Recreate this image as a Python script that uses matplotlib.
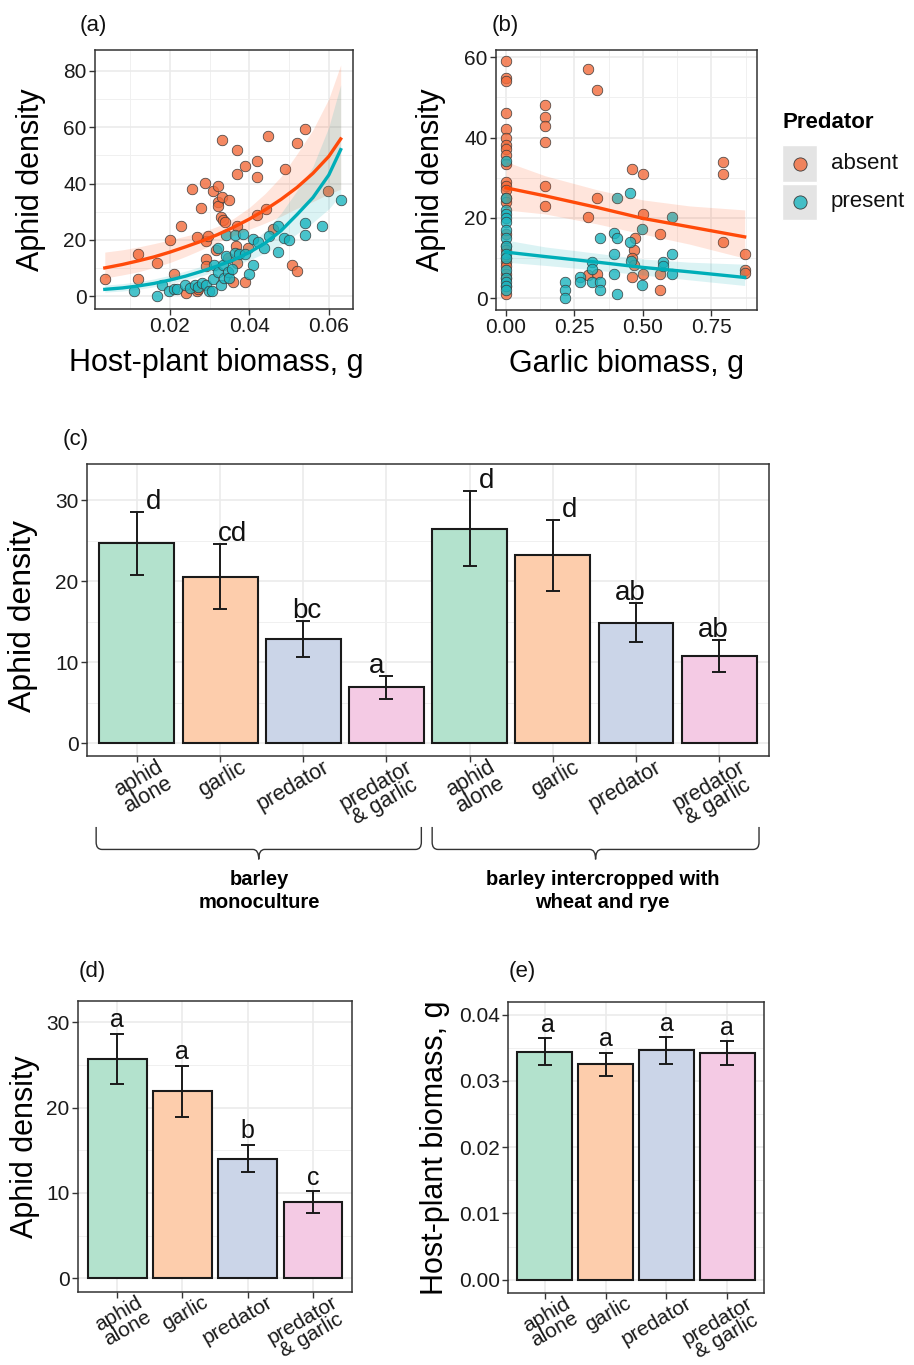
import matplotlib
matplotlib.use("Agg")
import matplotlib.pyplot as plt
import numpy as np
from matplotlib import transforms
from matplotlib.lines import Line2D
from matplotlib.patches import PathPatch, Rectangle
from matplotlib.path import Path

plt.rcParams["font.family"] = ["Liberation Sans", "DejaVu Sans"]

# ---------------- data ----------------
# (a) aphid density vs host-plant biomass
a_abs_x = [0.0036, 0.0119, 0.0119, 0.0167, 0.0199, 0.0209, 0.0228, 0.0240, 0.0256, 0.0278,
           0.0268, 0.0268, 0.0270, 0.0288, 0.0290, 0.0290, 0.0290, 0.0296, 0.0308, 0.0315,
           0.0320, 0.0320, 0.0320, 0.0330, 0.0330, 0.0328, 0.0333, 0.0338, 0.0345, 0.0350,
           0.0369, 0.0369, 0.0369, 0.0367, 0.0370, 0.0360, 0.0389, 0.0389, 0.0397, 0.0419,
           0.0419, 0.0419, 0.0441, 0.0447, 0.0460, 0.0489, 0.0508, 0.0519, 0.0519, 0.0540,
           0.0598]
a_abs_y = [6.3, 15.2, 6.3, 11.9, 19.9, 8.1, 24.9, 1.1, 38.2, 31.2,
           21.1, 1.8, 2.8, 40.2, 19.6, 13.3, 10.7, 21.4, 37.4, 16.5,
           39.0, 33.4, 32.2, 55.3, 35.3, 28.2, 27.0, 26.5, 13.5, 34.1,
           52.0, 43.2, 24.9, 17.8, 11.9, 5.1, 46.1, 5.1, 17.2, 48.1,
           42.2, 28.7, 31.0, 57.0, 24.0, 45.2, 11.1, 9.0, 54.4, 59.4,
           37.4]
a_pre_x = [0.0109, 0.0167, 0.0179, 0.0198, 0.0209, 0.0219, 0.0238, 0.0250, 0.0263, 0.0271,
           0.0280, 0.0290, 0.0298, 0.0305, 0.0308, 0.0311, 0.0320, 0.0320, 0.0328, 0.0333,
           0.0335, 0.0340, 0.0340, 0.0345, 0.0350, 0.0357, 0.0364, 0.0365, 0.0374, 0.0385,
           0.0390, 0.0409, 0.0409, 0.0399, 0.0422, 0.0438, 0.0450, 0.0471, 0.0471, 0.0488,
           0.0499, 0.0540, 0.0540, 0.0582, 0.0630]
a_pre_y = [1.9, 0.1, 3.9, 1.9, 2.5, 2.5, 3.9, 3.0, 4.2, 3.5,
           4.8, 4.0, 1.9, 1.9, 6.0, 11.0, 17.2, 8.5, 4.2, 11.1,
           6.5, 14.3, 21.6, 8.7, 6.7, 9.6, 21.6, 15.5, 15.2, 22.0,
           15.0, 20.4, 11.0, 8.1, 19.3, 17.2, 21.4, 25.1, 15.6, 20.8,
           20.0, 26.1, 21.7, 25.1, 34.1]

# fitted curves and confidence bands
a_fit_x = [0.0036, 0.008, 0.012, 0.016, 0.020, 0.024, 0.028, 0.032,
           0.036, 0.040, 0.044, 0.048, 0.052, 0.056, 0.060, 0.063]
a_fit_abs = [10.1, 11.3, 12.6, 14.0, 15.7, 17.6, 19.6, 21.9,
             24.5, 27.4, 30.7, 34.4, 38.6, 43.6, 49.6, 55.8]
a_abs_lo = [6.5, 7.6, 8.7, 10.3, 12.0, 14.2, 16.6, 19.2,
            21.5, 23.8, 26.0, 28.4, 31.2, 33.6, 36.3, 38.0]
a_abs_hi = [15.7, 16.5, 17.5, 18.7, 20.0, 21.4, 22.8, 24.8,
            27.6, 31.5, 36.5, 42.5, 50.5, 59.0, 70.0, 82.0]
a_fit_pre = [2.5, 3.0, 3.7, 4.6, 5.8, 7.2, 8.9, 10.8,
             12.9, 15.6, 18.9, 23.3, 29.0, 35.0, 43.0, 52.0]
a_pre_lo = [1.5, 1.9, 2.5, 3.4, 4.5, 5.8, 7.3, 9.0,
            10.7, 12.9, 15.4, 18.3, 22.2, 26.2, 31.0, 36.0]
a_pre_hi = [4.0, 4.5, 5.2, 6.2, 7.5, 9.0, 10.7, 12.8,
            15.2, 18.5, 23.2, 29.5, 37.5, 46.0, 60.0, 75.0]

# (b) aphid density vs garlic biomass
b_abs_x = [0.0] * 25 + [0.143, 0.143, 0.143, 0.143, 0.143, 0.143, 0.301, 0.334, 0.334, 0.301,
                        0.301, 0.334, 0.460, 0.500, 0.500, 0.472, 0.466, 0.460, 0.466, 0.460,
                        0.500, 0.561, 0.561, 0.561, 0.792, 0.792, 0.792, 0.872, 0.872, 0.872]
b_abs_y = [59.1, 54.9, 54.2, 46.0, 42.1, 39.8, 38.2, 37.2, 35.7, 33.5,
           29.0, 28.0, 27.0, 25.0, 24.0, 16.0, 13.0, 12.0, 10.0, 9.0,
           8.0, 6.0, 5.0, 3.0, 1.0,
           48.1, 45.1, 43.0, 39.0, 28.0, 22.9, 57.0, 51.9, 24.9, 20.2,
           5.8, 6.0, 32.1, 31.0, 20.9, 15.1, 12.0, 10.0, 8.3, 5.4,
           6.0, 16.1, 6.0, 2.1, 34.0, 31.0, 14.1, 11.0, 7.0, 6.2]
b_pre_x = [0.0] * 16 + [0.217, 0.217, 0.217, 0.270, 0.270, 0.313, 0.313, 0.313, 0.344, 0.344,
                        0.344, 0.393, 0.407, 0.393, 0.393, 0.405, 0.407, 0.454, 0.454, 0.457,
                        0.496, 0.496, 0.572, 0.572, 0.606, 0.606, 0.606]
b_pre_y = [34.1, 25.0, 22.0, 21.0, 20.0, 19.0, 17.0, 15.0, 13.0, 11.0,
           10.0, 7.0, 5.0, 4.0, 3.0, 2.0,
           4.1, 2.1, 0.1, 5.2, 4.0, 9.0, 7.3, 4.0, 15.1, 4.0,
           2.1, 16.2, 15.1, 11.0, 6.0, 25.0, 1.1, 26.1, 14.1, 9.2,
           17.2, 3.3, 9.1, 8.0, 20.2, 11.0, 6.0]

b_fit_x = [0.0, 0.143, 0.334, 0.5, 0.67, 0.872]
b_fit_abs = [27.5, 25.5, 22.6, 19.9, 17.8, 15.3]
b_abs_lo = [22.0, 21.0, 18.5, 16.0, 13.5, 10.0]
b_abs_hi = [34.0, 30.5, 27.0, 24.5, 23.0, 22.0]
b_fit_pre = [11.5, 10.4, 9.0, 7.7, 6.6, 5.2]
b_pre_lo = [9.0, 8.2, 7.0, 5.8, 4.6, 3.2]
b_pre_hi = [14.5, 12.8, 11.2, 9.8, 9.0, 8.5]

# (c) aphid density by treatment and cropping system
treatments = ["aphid\nalone", "garlic", "predator", "predator\n& garlic"]
c_mean = [24.7, 20.6, 12.9, 6.9, 26.5, 23.2, 14.9, 10.8]
c_se = [3.9, 4.05, 2.2, 1.45, 4.65, 4.35, 2.4, 1.95]
c_letters = ["d", "cd", "bc", "a", "d", "d", "ab", "ab"]
groups = ["barley\nmonoculture", "barley intercropped with\nwheat and rye"]

# (d) aphid density pooled
d_mean = [25.7, 21.9, 14.0, 8.9]
d_se = [2.95, 3.0, 1.6, 1.27]
d_letters = ["a", "a", "b", "c"]

# (e) host-plant biomass
e_mean = [0.0344, 0.0325, 0.0346, 0.0342]
e_se = [0.00205, 0.00175, 0.0020, 0.0018]
e_letters = ["a", "a", "a", "a"]

# ---------------- style ----------------
ORANGE = "#FF4A0A"
TEAL = "#00AEB8"
PT_ORANGE = (0.95, 0.42, 0.23, 0.8)
PT_TEAL = (0.11, 0.71, 0.75, 0.8)
PASTEL = ["#B3E2CD", "#FDCDAC", "#CBD5E8", "#F4CAE4"]
letter_nudge_c = [0.2, 0.15, 0.04, -0.12, 0.2, 0.2, -0.07, -0.07]

W, H = 914, 1365
fig = plt.figure(figsize=(W / 100, H / 100), dpi=100)


def px_axes(left, top, right, bottom):
    return fig.add_axes([left / W, 1 - bottom / H, (right - left) / W, (bottom - top) / H])


def theme_bw(ax):
    ax.set_facecolor("white")
    for s in ax.spines.values():
        s.set_color("#333333")
        s.set_linewidth(1.1)
    ax.grid(True, which="major", color="#EBEBEB", linewidth=1.2)
    ax.grid(True, which="minor", color="#F0F0F0", linewidth=0.7)
    ax.set_axisbelow(True)
    ax.tick_params(which="major", direction="out", length=4, width=1.0, color="#333333",
                   labelsize=15, labelcolor="#1a1a1a", pad=2)
    ax.tick_params(which="minor", length=0)


def scatter_panel(ax, ax_pts, ay_pts, px_pts, py_pts, fx, fa, alo, ahi, fp, plo, phi):
    ax.scatter(ax_pts, ay_pts, s=58, c=[PT_ORANGE], edgecolors="#3a3a3a", linewidths=0.5, zorder=2)
    ax.scatter(px_pts, py_pts, s=58, c=[PT_TEAL], edgecolors="#3a3a3a", linewidths=0.5, zorder=2)
    ax.fill_between(fx, alo, ahi, color=ORANGE, alpha=0.14, linewidth=0, zorder=3)
    ax.fill_between(fx, plo, phi, color=TEAL, alpha=0.14, linewidth=0, zorder=3)
    ax.plot(fx, fa, color=ORANGE, linewidth=2.4, zorder=4)
    ax.plot(fx, fp, color=TEAL, linewidth=2.4, zorder=4)


def bar_panel(ax, means, se, letters, nudges, letter_size, letter_pad, label_size):
    pos = np.arange(1, len(means) + 1)
    colors = [PASTEL[i % 4] for i in range(len(means))]
    ax.bar(pos, means, width=0.9, color=colors, edgecolor="#1a1a1a", linewidth=1.5, zorder=2)
    ax.errorbar(pos, means, yerr=se, fmt="none", ecolor="#1a1a1a", elinewidth=1.4,
                capsize=5, capthick=1.4, zorder=3)
    for p, m, e, lab, n in zip(pos, means, se, letters, nudges):
        ax.annotate(lab, (p + n, m + e), xytext=(0, letter_pad), textcoords="offset points",
                    ha="center", va="baseline", fontsize=letter_size, color="#111111")
    ax.set_xlim(0.4, len(means) + 0.6)
    ax.set_xticks(pos)
    ax.set_xticklabels([])
    tr = transforms.blended_transform_factory(ax.transData, ax.transAxes)
    off = transforms.ScaledTranslation(0.19, -0.01, fig.dpi_scale_trans)
    for i, p in enumerate(pos):
        ax.text(p, 0, treatments[i % 4], transform=tr + off, rotation=30, ha="right", va="top",
                rotation_mode="anchor", multialignment="center", fontsize=label_size,
                color="#1a1a1a", linespacing=0.85)


def brace(ax, x0, x1, y_top, y_base, y_dip):
    tr = transforms.blended_transform_factory(ax.transData, ax.transAxes)
    xm = (x0 + x1) / 2
    r = 0.07
    c = 0.025
    verts = [(x0, y_top), (x0, y_base + c), (x0, y_base), (x0 + r, y_base),
             (xm - r, y_base), (xm, y_base), (xm, y_dip),
             (xm, y_base), (xm + r, y_base),
             (x1 - r, y_base), (x1, y_base), (x1, y_base + c), (x1, y_top)]
    codes = [Path.MOVETO, Path.LINETO, Path.CURVE3, Path.CURVE3,
             Path.LINETO, Path.CURVE3, Path.CURVE3,
             Path.CURVE3, Path.CURVE3,
             Path.LINETO, Path.CURVE3, Path.CURVE3, Path.LINETO]
    ax.add_patch(PathPatch(Path(verts, codes), facecolor="none", edgecolor="#333333",
                           linewidth=1.0, transform=tr, clip_on=False))


# ---------------- (a) ----------------
ax_a = px_axes(95, 50, 353, 309)
theme_bw(ax_a)
scatter_panel(ax_a, a_abs_x, a_abs_y, a_pre_x, a_pre_y, a_fit_x,
              a_fit_abs, a_abs_lo, a_abs_hi, a_fit_pre, a_pre_lo, a_pre_hi)
ax_a.set_xlim(0.00113, 0.0661)
ax_a.set_ylim(-4.46, 87.3)
ax_a.set_xticks([0.02, 0.04, 0.06], ["0.02", "0.04", "0.06"])
ax_a.set_xticks([0.01, 0.03, 0.05], minor=True)
ax_a.set_yticks([0, 20, 40, 60, 80])
ax_a.set_yticks([10, 30, 50, 70], minor=True)
ax_a.set_xlabel("Host-plant biomass, g", fontsize=22)
ax_a.set_ylabel("Aphid density", fontsize=22)
ax_a.xaxis.set_label_coords(0.47, -0.15)
ax_a.yaxis.set_label_coords(-0.19, 0.5)

# ---------------- (b) ----------------
ax_b = px_axes(496, 50, 757, 310)
theme_bw(ax_b)
scatter_panel(ax_b, b_abs_x, b_abs_y, b_pre_x, b_pre_y, b_fit_x,
              b_fit_abs, b_abs_lo, b_abs_hi, b_fit_pre, b_pre_lo, b_pre_hi)
ax_b.set_xlim(-0.0366, 0.917)
ax_b.set_ylim(-2.9, 61.8)
ax_b.set_xticks([0, 0.25, 0.5, 0.75], ["0.00", "0.25", "0.50", "0.75"])
ax_b.set_xticks([0.125, 0.375, 0.625, 0.875], minor=True)
ax_b.set_yticks([0, 20, 40, 60])
ax_b.set_yticks([10, 30, 50], minor=True)
ax_b.set_xlabel("Garlic biomass, g", fontsize=22)
ax_b.set_ylabel("Aphid density", fontsize=22)
ax_b.xaxis.set_label_coords(0.5, -0.15)
ax_b.yaxis.set_label_coords(-0.19, 0.5)

# legend
fig.text(782 / W, 1 - 122 / H, "Predator", fontsize=16, fontweight="bold", va="center", ha="left")
for (yc, lab, col) in [(163.5, "absent", PT_ORANGE), (202, "present", PT_TEAL)]:
    fig.patches.append(Rectangle((782 / W, 1 - (yc + 18) / H), 35 / W, 36 / H,
                                 facecolor="#E4E4E4", edgecolor="white", linewidth=1,
                                 transform=fig.transFigure))
    fig.add_artist(Line2D([799.5 / W], [1 - yc / H], marker="o", markersize=9.5,
                          markerfacecolor=col, markeredgecolor="#3a3a3a", markeredgewidth=0.6,
                          linestyle="none", transform=fig.transFigure))
    fig.text(831 / W, 1 - yc / H, lab, fontsize=16, va="center", ha="left", color="#111111")

# ---------------- (c) ----------------
ax_c = px_axes(87, 464, 769, 756)
theme_bw(ax_c)
bar_panel(ax_c, c_mean, c_se, c_letters, letter_nudge_c, 20, 2, 15.5)
ax_c.set_ylim(-1.57, 34.5)
ax_c.set_yticks([0, 10, 20, 30])
ax_c.set_yticks([5, 15, 25], minor=True)
ax_c.set_ylabel("Aphid density", fontsize=23)
ax_c.yaxis.set_label_coords(-0.072, 0.48)
brace(ax_c, 0.51, 4.42, -0.243, -0.320, -0.354)
brace(ax_c, 4.55, 8.48, -0.243, -0.320, -0.354)
tr_c = transforms.blended_transform_factory(ax_c.transData, ax_c.transAxes)
ax_c.text(2.47, -0.39, groups[0], transform=tr_c, ha="center", va="top", fontsize=14.5,
          fontweight="bold", linespacing=1.25)
ax_c.text(6.6, -0.39, groups[1], transform=tr_c, ha="center", va="top", fontsize=14.5,
          fontweight="bold", linespacing=1.25)

# ---------------- (d) ----------------
ax_d = px_axes(78, 1001, 352, 1292)
theme_bw(ax_d)
bar_panel(ax_d, d_mean, d_se, d_letters, [0, 0, 0, 0], 18, 5, 15)
ax_d.set_ylim(-1.62, 32.5)
ax_d.set_yticks([0, 10, 20, 30])
ax_d.set_yticks([5, 15, 25], minor=True)
ax_d.set_ylabel("Aphid density", fontsize=22)
ax_d.yaxis.set_label_coords(-0.14, 0.5)

# ---------------- (e) ----------------
ax_e = px_axes(508, 1002, 764, 1293)
theme_bw(ax_e)
bar_panel(ax_e, e_mean, e_se, e_letters, [0.05, 0, 0, 0], 18, 4.5, 15)
ax_e.set_ylim(-0.002, 0.0419)
ax_e.set_yticks([0, 0.01, 0.02, 0.03, 0.04], ["0.00", "0.01", "0.02", "0.03", "0.04"])
ax_e.set_yticks([0.005, 0.015, 0.025, 0.035], minor=True)
ax_e.set_ylabel("Host-plant biomass, g", fontsize=22)
ax_e.yaxis.set_label_coords(-0.225, 0.5)

# panel tags
for tag, x, y in [("(a)", 80, 25), ("(b)", 492, 25), ("(c)", 63, 440), ("(d)", 79, 972), ("(e)", 509, 972)]:
    fig.text(x / W, 1 - y / H, tag, fontsize=16, va="center", ha="left", color="#111111")

fig.savefig("out.png", dpi=100)
